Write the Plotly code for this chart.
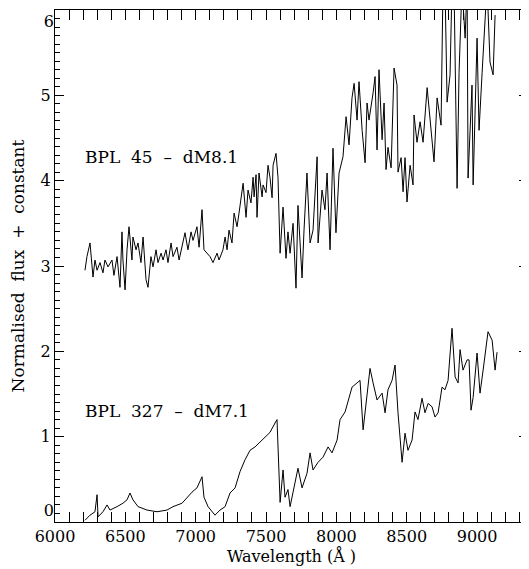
import plotly.graph_objects as go

# BPL 45 (upper spectrum) - wavelength (Angstrom) and normalised flux + constant
wl_bpl45 = [6213, 6227, 6249, 6270, 6284, 6299, 6320, 6341, 6355, 6377, 6405, 6419, 6441,
            6462, 6476, 6483, 6498, 6512, 6526, 6547, 6554, 6576, 6590, 6611, 6626, 6647,
            6661, 6682, 6697, 6718, 6732, 6754, 6768, 6789, 6803, 6825, 6839, 6867, 6882,
            6910, 6924, 6945, 6967, 6981, 7009, 7024, 7045, 7059, 7081, 7102, 7123, 7152,
            7166, 7194, 7209, 7223, 7237, 7258, 7273, 7294, 7308, 7329, 7337, 7358, 7372,
            7393, 7408, 7415, 7429, 7436, 7450, 7472, 7479, 7500, 7514, 7528, 7543, 7550,
            7571, 7585, 7600, 7621, 7642, 7656, 7671, 7692, 7713, 7727, 7756, 7770, 7791,
            7813, 7834, 7863, 7870, 7898, 7919, 7934, 7955, 7976, 7997, 8019, 8047, 8069,
            8090, 8111, 8126, 8147, 8161, 8183, 8204, 8218, 8232, 8261, 8275, 8289, 8303,
            8325, 8339, 8353, 8367, 8389, 8410, 8431, 8438, 8460, 8474, 8488, 8502, 8524,
            8545, 8552, 8573, 8595, 8616, 8645, 8673, 8694, 8716, 8744, 8758, 8772, 8787,
            8808, 8822, 8836, 8858, 8872, 8893, 8915, 8929, 8936, 8964, 8972, 9000, 9014,
            9036, 9057, 9071, 9092, 9114, 9128, 9142]
flux_bpl45 = [2.95, 3.11, 3.27, 2.87, 3.07, 2.95, 3.04, 2.92, 3.07, 2.99, 3.07, 2.89, 3.11,
              2.75, 3.40, 3.07, 2.72, 3.19, 3.46, 3.07, 3.34, 3.19, 3.27, 3.04, 3.34, 2.84,
              2.75, 3.11, 2.99, 3.19, 3.04, 3.15, 3.07, 3.19, 3.04, 3.27, 3.11, 3.22, 3.07,
              3.30, 3.39, 3.19, 3.40, 3.30, 3.46, 3.22, 3.66, 3.19, 3.15, 3.11, 3.04, 3.15,
              3.07, 3.19, 3.34, 3.19, 3.42, 3.27, 3.62, 3.46, 3.62, 3.89, 3.97, 3.57, 3.89,
              3.74, 4.04, 3.81, 4.07, 3.57, 4.09, 3.81, 3.95, 3.86, 4.18, 4.04, 3.80, 4.18,
              4.32, 4.04, 3.15, 3.69, 3.09, 3.40, 3.15, 3.50, 2.74, 3.71, 2.86, 3.42, 4.09,
              3.27, 3.42, 4.28, 3.27, 3.89, 3.66, 4.09, 3.19, 4.38, 3.39, 4.09, 4.28, 4.75,
              4.42, 4.97, 5.14, 4.71, 5.16, 4.59, 4.21, 4.91, 4.71, 5.03, 5.22, 4.36, 5.30,
              4.48, 4.91, 4.13, 4.39, 4.15, 5.32, 5.12, 4.10, 4.27, 3.87, 4.27, 3.75, 4.18,
              3.95, 4.77, 4.45, 4.69, 4.45, 5.09, 4.57, 4.22, 4.97, 4.65, 6.30, 6.30, 4.92,
              5.24, 6.30, 6.30, 3.91, 5.27, 6.30, 5.67, 6.30, 4.03, 5.12, 3.95, 5.67, 4.59,
              5.27, 5.82, 6.30, 5.39, 5.24, 5.94]

# BPL 327 (lower spectrum)
wl_bpl327 = [6213, 6249, 6284, 6299, 6306, 6341, 6370, 6391, 6441, 6483, 6512, 6533, 6554,
             6590, 6654, 6725, 6796, 6839, 6903, 6938, 6974, 7009, 7045, 7059, 7088, 7137,
             7173, 7209, 7244, 7280, 7315, 7351, 7386, 7422, 7457, 7493, 7528, 7564, 7578,
             7600, 7621, 7635, 7656, 7671, 7692, 7727, 7756, 7791, 7813, 7834, 7870, 7905,
             7941, 7969, 8005, 8026, 8062, 8083, 8111, 8147, 8168, 8190, 8218, 8239, 8261,
             8289, 8325, 8346, 8367, 8396, 8417, 8438, 8467, 8488, 8509, 8538, 8559, 8580,
             8609, 8630, 8652, 8680, 8701, 8723, 8751, 8772, 8794, 8822, 8844, 8865, 8879,
             8900, 8929, 8943, 8957, 8972, 9000, 9021, 9043, 9078, 9107, 9128, 9142]
flux_bpl327 = [0.02, 0.08, 0.12, 0.32, 0.06, 0.12, 0.20, 0.14, 0.18, 0.22, 0.26, 0.34, 0.26,
               0.18, 0.14, 0.12, 0.14, 0.18, 0.22, 0.29, 0.35, 0.40, 0.53, 0.29, 0.18, 0.08,
               0.14, 0.18, 0.34, 0.40, 0.59, 0.73, 0.84, 0.88, 0.94, 1.00, 1.05, 1.16, 1.20,
               0.23, 0.61, 0.29, 0.38, 0.18, 0.34, 0.63, 0.40, 0.57, 0.81, 0.61, 0.70, 0.76,
               0.88, 0.81, 0.96, 1.20, 1.29, 1.43, 1.58, 1.63, 1.66, 1.08, 1.51, 1.80, 1.63,
               1.43, 1.51, 1.28, 1.55, 1.66, 1.84, 1.28, 0.70, 1.04, 0.84, 0.96, 1.29, 1.20,
               1.45, 1.28, 1.39, 1.35, 1.23, 1.28, 1.58, 1.55, 1.66, 2.27, 1.70, 1.63, 2.02,
               1.78, 1.90, 1.90, 1.31, 1.46, 1.98, 1.51, 1.78, 2.23, 2.13, 1.78, 1.99]

labels = ["BPL\u00a0 45\u00a0 \u2013\u00a0 dM8.1", "BPL\u00a0 327\u00a0 \u2013\u00a0 dM7.1"]
label_x = [6200, 6200]
label_y = [4.28, 1.30]

x_range = [6000, 9362]
y_range = [0, 6]
x_ticks = [6000, 6500, 7000, 7500, 8000, 8500, 9000]
y_ticks_mid = [1, 2, 3, 4, 5]
y_tick_bottom = [0]
y_tick_top = [6]
y_ticks_all = y_tick_bottom + y_ticks_mid + y_tick_top

FONT = "DejaVu Serif"
TICKFONT = dict(family=FONT, size=16, color="black")

fig = go.Figure()
fig.add_trace(go.Scatter(x=wl_bpl45, y=flux_bpl45, mode="lines",
                         line=dict(color="black", width=1), showlegend=False))
fig.add_trace(go.Scatter(x=wl_bpl327, y=flux_bpl327, mode="lines",
                         line=dict(color="black", width=1), showlegend=False))
# empty traces so the two label-only y axes are drawn
fig.add_trace(go.Scatter(x=[], y=[], yaxis="y2", showlegend=False, hoverinfo="skip"))
fig.add_trace(go.Scatter(x=[], y=[], yaxis="y3", showlegend=False, hoverinfo="skip"))

for t, xx, yy in zip(labels, label_x, label_y):
    fig.add_annotation(x=xx, y=yy, text=t, showarrow=False, xanchor="left",
                       yanchor="middle", font=dict(family=FONT, size=17, color="black"))

axis_common = dict(showgrid=False, zeroline=False, showline=True, linecolor="black",
                   linewidth=1, mirror="allticks", ticks="inside", tickcolor="black",
                   tickwidth=1, automargin=False, tickfont=TICKFONT)

fig.update_xaxes(range=x_range, tickmode="array", tickvals=x_ticks, ticklen=10,
                 minor=dict(dtick=100, tick0=6000, ticklen=5, ticks="inside",
                            tickcolor="black", tickwidth=1, showgrid=False),
                 title=dict(text="Wavelength (\u00c5 )", font=dict(family=FONT, size=16,
                                                                color="black"), standoff=4),
                 **axis_common)

# main y axis: all ticks, labels for the middle values
fig.update_layout(yaxis=dict(range=y_range, tickmode="array", tickvals=y_ticks_all,
                             ticktext=["" if v in y_tick_bottom + y_tick_top else str(v)
                                       for v in y_ticks_all],
                             ticklen=9,
                             minor=dict(dtick=0.1, tick0=0, ticklen=5, ticks="inside",
                                        tickcolor="black", tickwidth=1, showgrid=False),
                             title=dict(text="Normalised\u00a0 flux\u00a0 +\u00a0 constant",
                                        font=dict(family=FONT, size=17, color="black"),
                                        standoff=11),
                             **axis_common))

label_axis = dict(overlaying="y", anchor="x", side="left", range=y_range, tickmode="array",
                  showgrid=False, zeroline=False, showline=False, ticks="",
                  automargin=False, tickfont=TICKFONT, fixedrange=True)

# page body adds an 8px offset, so the figure is 8px smaller on each side
fig.update_layout(width=521, height=561, margin=dict(l=47, r=1, t=2, b=47),
                  plot_bgcolor="white", paper_bgcolor="white",
                  yaxis2=dict(tickvals=y_tick_bottom, ticklabelposition="outside top",
                              **label_axis),
                  yaxis3=dict(tickvals=y_tick_top, ticklabelposition="outside bottom",
                              **label_axis))

fig.write_html("out.html")
